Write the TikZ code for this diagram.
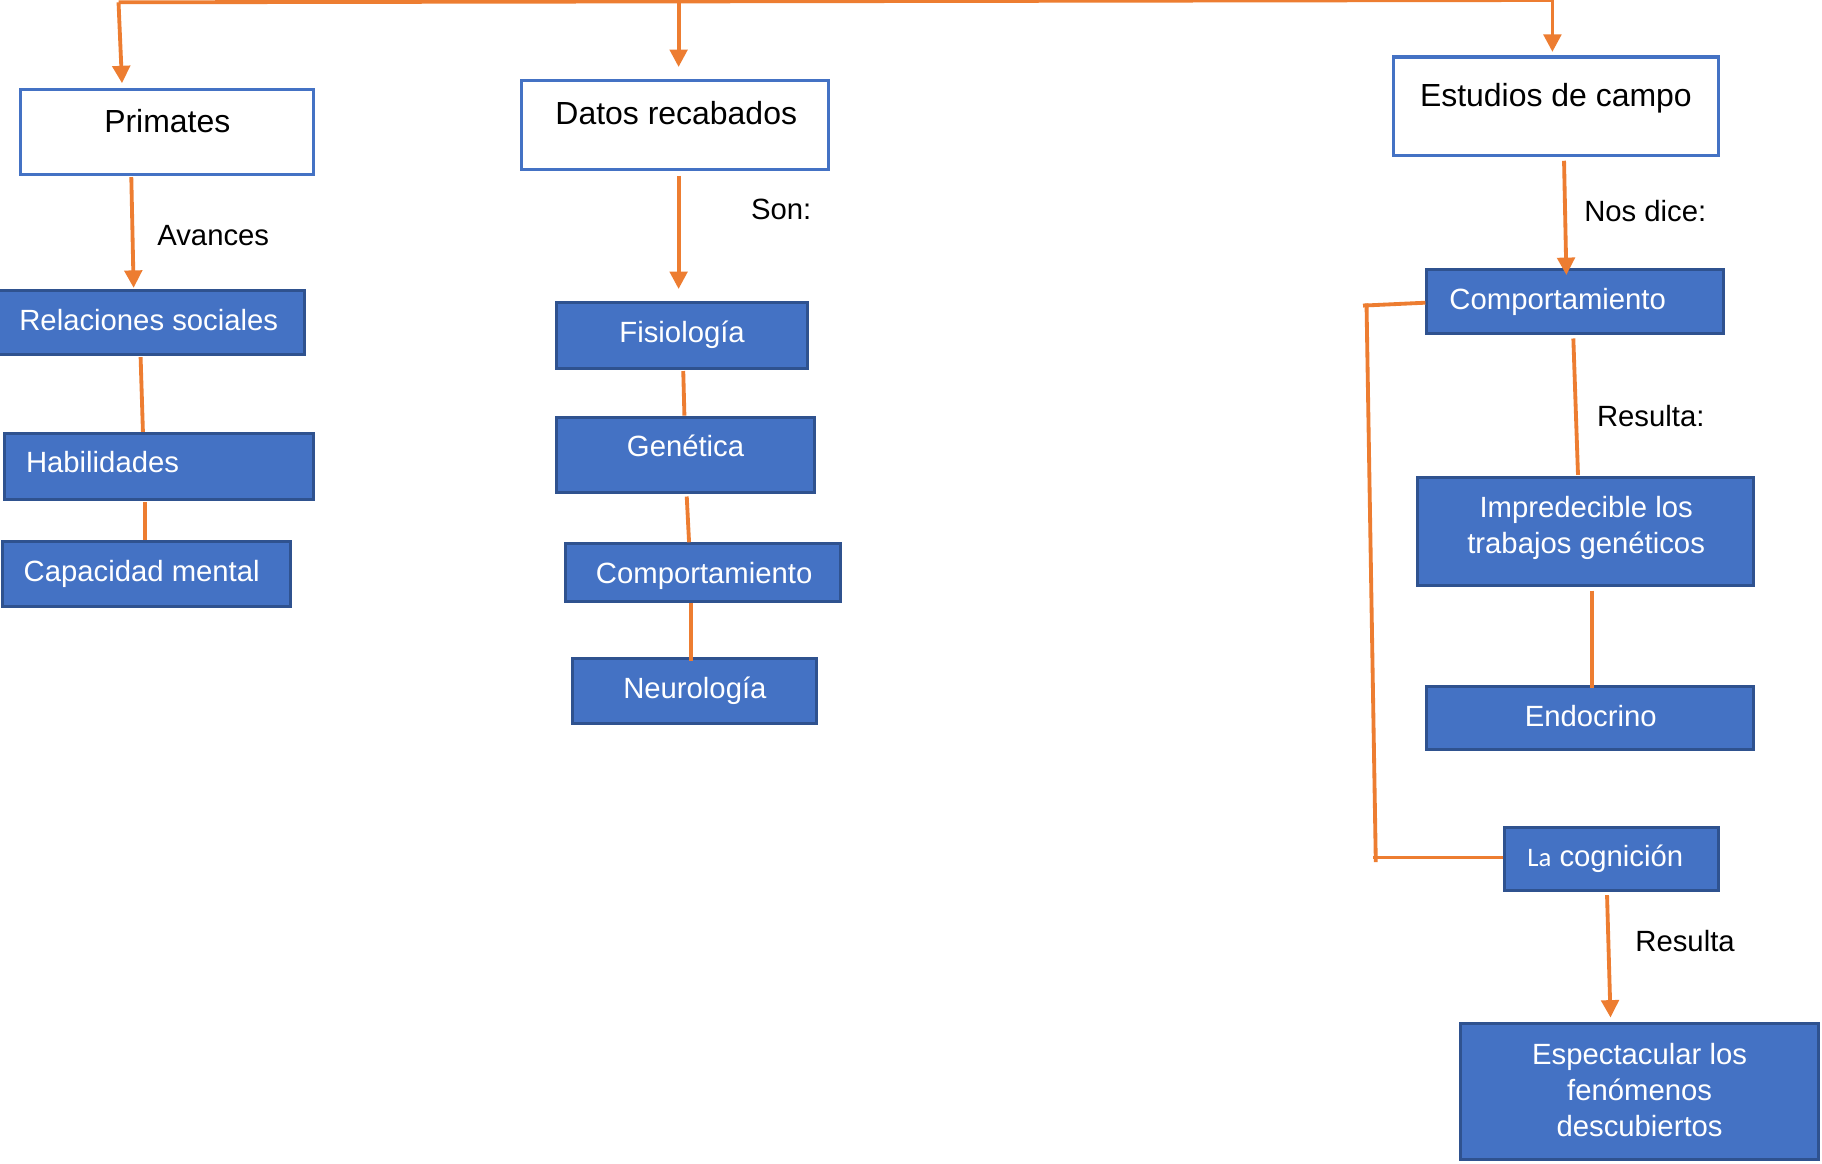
\documentclass[tikz,border=0pt]{standalone}
\usepackage{fontspec}
\setmainfont{Liberation Sans}
\newfontfamily\carlitofont{Carlito}
\usetikzlibrary{arrows.meta,calc}
\definecolor{oran}{HTML}{ED7D31}
\definecolor{bblue}{HTML}{4472C4}
\definecolor{bdark}{HTML}{2F528F}
\newcommand\mkbox[6]{\node[#1, minimum width={(#4-#2)*0.5pt}, minimum height={(#5-#3)*0.5pt}] (#6) at ({(#2+#4)/2},{(#3+#5)/2}) {};}
\begin{document}
\begin{tikzpicture}[x=0.5pt, y=-0.5pt,
  wbox/.style={draw=bblue, fill=white, line width=1.35pt, inner sep=0pt},
  fbox/.style={draw=bdark, fill=bblue, line width=1.3pt, inner sep=0pt},
  oline/.style={draw=oran, line width=1.65pt},
  oarr/.style={oline, -{Triangle[length=7.5pt,width=7.5pt]}},
  ttl/.style={text=black, font=\fontsize{13.75pt}{16pt}\selectfont, inner sep=0pt},
  wt/.style={text=white, font=\fontsize{12.6pt}{15.5pt}\selectfont, inner sep=0pt},
  lbl/.style={text=black, font=\fontsize{12.6pt}{15.5pt}\selectfont, inner sep=0pt}]
\useasboundingbox (0,0) rectangle (1568,1001);
\fill[white] (0,0) rectangle (1568,1001);

% boxes
\mkbox{wbox}{18}{77}{270}{150}{primates}
\mkbox{wbox}{449}{69}{713}{146}{datos}
\mkbox{wbox}{1199}{49}{1479}{134}{estudios}
\mkbox{fbox}{-1}{250}{262}{305}{rel}
\mkbox{fbox}{4}{373}{270}{430}{hab}
\mkbox{fbox}{2}{466}{250}{522}{cap}
\mkbox{fbox}{479}{260}{695}{317}{fis}
\mkbox{fbox}{479}{359}{701}{424}{gen}
\mkbox{fbox}{487}{468}{723}{518}{compa}
\mkbox{fbox}{493}{567}{703}{623}{neuro}
\mkbox{fbox}{1228}{232}{1483}{287}{compb}
\mkbox{fbox}{1220}{411}{1509}{504}{impr}
\mkbox{fbox}{1228}{591}{1509}{645}{endo}
\mkbox{fbox}{1295}{712}{1479}{766}{cogn}
\mkbox{fbox}{1257}{881}{1565}{998}{espec}

% texts
\node[ttl, anchor=base] (tprim) at (144,114) {Primates};
\node[ttl, anchor=base] (tdatos) at (582,107) {Datos recabados};
\node[ttl, anchor=base] (testu) at (1339,92) {Estudios de campo};
\node[wt, anchor=base] (trel) at (128,284) {Relaciones sociales};
\node[wt, anchor=base west] (thab) at (22,407) {Habilidades};
\node[wt, anchor=base west] (tcap) at (20,500) {Capacidad mental};
\node[wt, anchor=base] (tfis) at (587,295) {Fisiología};
\node[wt, anchor=base] (tgen) at (590,393) {Genética};
\node[wt, anchor=base] (tcompa) at (606,502) {Comportamiento};
\node[wt, anchor=base] (tneuro) at (598,601) {Neurología};
\node[wt, anchor=base west] (tcompb) at (1247,266) {Comportamiento};
\node[wt, align=center] (timpr) at (1365,454) {Impredecible los\\trabajos genéticos};
\node[wt, anchor=base] (tendo) at (1369,625) {Endocrino};
\node[wt, anchor=base west] (tcogn) at (1314,746) {{\carlitofont\fontsize{11.5pt}{14pt}\selectfont La} cognición};
\node[wt, align=center] (tespec) at (1411,938) {Espectacular los\\fenómenos\\descubiertos};

\node[lbl, anchor=base west] (lav) at (135,211) {Avances};
\node[lbl, anchor=base west] (lson) at (646,189) {Son:};
\node[lbl, anchor=base west] (lnos) at (1363,191) {Nos dice:};
\node[lbl, anchor=base west] (lres) at (1374,367) {Resulta:};
\node[lbl, anchor=base west] (lres2) at (1407,819) {Resulta};

% top line
\coordinate (topa) at (102,2);
\coordinate (topc) at (1336,0);
\draw[oline] (topa) -- (topc);
\draw[oarr] (topa) -- ($(primates.north)+(-39,-4)$);
\draw[oarr] ($(datos.north)+(3,-68)$) -- ($(datos.north)+(3,-10)$);
\draw[oarr] (topc) -- ($(estudios.north)+(-3,-3)$);

% left column
\draw[oarr] ($(primates.south)+(-31,1)$) -- ($(rel.north)+(-15.5,-1)$);
\draw[oline] ($(rel.south)+(-9.5,1)$) -- ($(hab.north)+(-14,0)$);
\draw[oline] ($(hab.south)+(-12,1)$) -- ($(cap.north)+(-1,0)$);

% middle column
\draw[oarr] ($(datos.south)+(3,4)$) -- ($(fis.north)+(-3,-10)$);
\draw[oline] ($(fis.south)+(1,1)$) -- ($(gen.north)+(-1,0)$);
\draw[oline] ($(gen.south)+(1,2)$) -- ($(compa.north)+(-12,0)$);
\draw[oline] ($(compa.south)+(-10,0)$) -- ($(neuro.north)+(-3,3)$);

% right column
\draw[oarr] ($(estudios.south)+(7,3)$) -- ($(compb.north)+(-7.5,6)$);
\draw[oline] ($(compb.south)+(-1.5,3)$) -- ($(impr.north)+(-6.5,-1)$);
\draw[oline] ($(impr.south)+(5.5,3)$) -- ($(endo.north)+(1.5,2)$);
\draw[oarr] ($(cogn.south)+(-4,3)$) -- ($(espec.north)+(-25,-4)$);

% bracket
\coordinate (bka) at (1173,263);
\coordinate (bkb) at (1176,261);
\coordinate (bkc) at (1184,742);
\coordinate (bkd) at (1182,738);
\draw[oline] ($(compb.west)+(0,1)$) -- (bka);
\draw[oline] (bkb) -- (bkc);
\draw[oline] (bkd) -- ($(cogn.west)+(0,-1)$);
\end{tikzpicture}
\end{document}
